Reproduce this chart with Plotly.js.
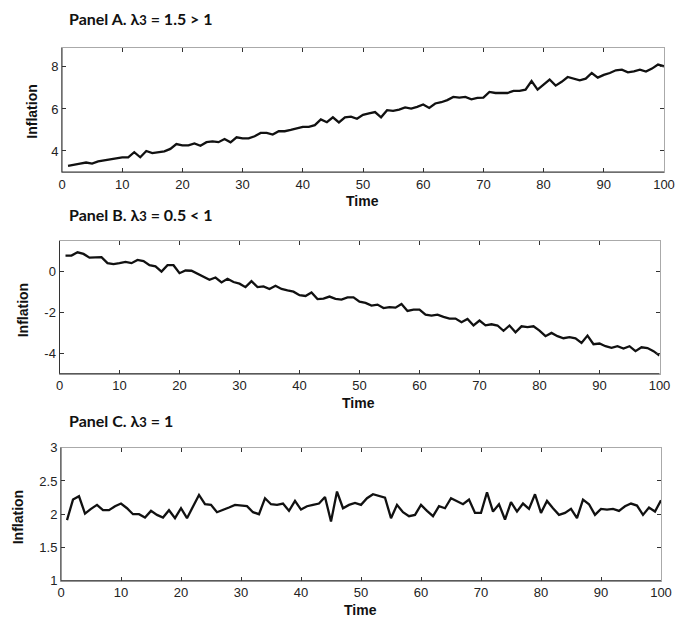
<!DOCTYPE html>
<html>
<head>
<meta charset="utf-8">
<script src="https://cdn.plot.ly/plotly-3.0.1.min.js"></script>
<style>html,body{margin:0;padding:0;background:#fff;}#chart{width:675px;height:617px;}</style>
</head>
<body>
<div id="chart"></div>
<script>
const time = [1,2,3,4,5,6,7,8,9,10,11,12,13,14,15,16,17,18,19,20,21,22,23,24,25,26,27,28,29,30,31,32,33,34,35,36,37,38,39,40,41,42,43,44,45,46,47,48,49,50,51,52,53,54,55,56,57,58,59,60,61,62,63,64,65,66,67,68,69,70,71,72,73,74,75,76,77,78,79,80,81,82,83,84,85,86,87,88,89,90,91,92,93,94,95,96,97,98,99,100];

const inflationA = [3.29,3.36,3.40,3.45,3.40,3.50,3.55,3.60,3.65,3.70,3.70,3.94,3.70,4.00,3.90,3.93,3.98,4.10,4.33,4.27,
  4.27,4.36,4.25,4.42,4.46,4.42,4.57,4.41,4.65,4.60,4.60,4.70,4.86,4.86,4.78,4.94,4.94,5.00,5.06,5.15,
  5.15,5.23,5.50,5.37,5.60,5.36,5.60,5.63,5.53,5.72,5.79,5.85,5.60,5.94,5.91,5.97,6.07,6.02,6.10,6.21,
  6.05,6.26,6.32,6.42,6.57,6.54,6.57,6.46,6.53,6.54,6.81,6.76,6.76,6.76,6.86,6.86,6.92,7.33,6.92,7.18,
  7.40,7.11,7.29,7.52,7.43,7.36,7.44,7.71,7.49,7.62,7.71,7.84,7.87,7.74,7.79,7.87,7.78,7.92,8.11,8.03];

const inflationB = [0.76,0.76,0.92,0.84,0.66,0.66,0.68,0.39,0.34,0.39,0.45,0.39,0.55,0.49,0.29,0.23,-0.02,0.29,0.29,-0.10,
  0.03,0.02,-0.13,-0.31,-0.42,-0.31,-0.55,-0.37,-0.53,-0.61,-0.78,-0.49,-0.78,-0.74,-0.87,-0.71,-0.87,-0.94,-1.00,-1.17,
  -1.21,-1.04,-1.36,-1.34,-1.24,-1.35,-1.39,-1.28,-1.28,-1.49,-1.55,-1.68,-1.63,-1.80,-1.75,-1.78,-1.60,-1.94,-1.88,-1.88,
  -2.12,-2.17,-2.12,-2.23,-2.31,-2.31,-2.49,-2.33,-2.65,-2.41,-2.64,-2.59,-2.65,-2.91,-2.65,-2.98,-2.69,-2.73,-2.69,-2.90,
  -3.17,-3.01,-3.17,-3.27,-3.22,-3.28,-3.50,-3.14,-3.56,-3.53,-3.66,-3.74,-3.66,-3.77,-3.66,-3.90,-3.71,-3.75,-3.90,-4.11];

const inflationC = [1.91,2.22,2.27,2.01,2.08,2.14,2.06,2.06,2.12,2.16,2.09,2.00,2.00,1.95,2.05,1.99,1.95,2.06,1.94,2.09,
  1.94,2.12,2.29,2.15,2.14,2.03,2.06,2.10,2.14,2.13,2.12,2.03,2.00,2.24,2.15,2.14,2.16,2.05,2.20,2.07,
  2.12,2.14,2.16,2.26,1.89,2.34,2.09,2.14,2.17,2.14,2.24,2.30,2.28,2.25,1.94,2.14,2.03,1.97,1.99,2.14,
  2.05,1.97,2.12,2.09,2.24,2.19,2.15,2.22,2.02,2.02,2.33,2.04,2.15,1.92,2.18,2.04,2.16,2.08,2.30,2.02,
  2.20,2.09,1.99,2.02,2.08,1.94,2.22,2.15,1.99,2.08,2.07,2.08,2.05,2.12,2.16,2.13,1.99,2.10,2.04,2.21];

const panelTitles = [
  'Panel A. λ<span style="font-size:13px">3</span> = 1.5 > 1',
  'Panel B. λ<span style="font-size:13px">3</span> = 0.5 < 1',
  'Panel C. λ<span style="font-size:13px">3</span> = 1'
];
const xTicks = [0,10,20,30,40,50,60,70,80,90,100];
const yTicksA = [4,6,8];
const yTickTextA = ['4','6','8'];
const yTicksB = [-4,-2,0];
const yTickTextB = ['-4','-2','0'];
const yTicksC = [1,1.5,2,2.5,3];
const yTickTextC = ['1','1.5','2','2.5','3'];
const xTitle = 'Time';
const yTitle = 'Inflation';

const W = 675, H = 617;
const px = v => v / W;
const py = v => 1 - v / H;

const panels = [
  {y: inflationA, yr: [3, 8.9], ticks: yTicksA, ticktext: yTickTextA, x0: 62, x1: 664, top: 48, bot: 172,
   title: [67, 18], ylab: [31.7, 112], xlab: [362, 201]},
  {y: inflationB, yr: [-5, 1.47], ticks: yTicksB, ticktext: yTickTextB, x0: 59.5, x1: 659.5, top: 241, bot: 373.7,
   title: [67, 215], ylab: [23.3, 310], xlab: [358, 403]},
  {y: inflationC, yr: [1, 3], ticks: yTicksC, ticktext: yTickTextC, x0: 61, x1: 661, top: 447.7, bot: 580.7,
   title: [67, 420], ylab: [18.3, 517], xlab: [360, 610]}
];

const tickFont = {family: 'Liberation Sans, Arial, sans-serif', size: 13, color: '#222'};
const traces = [];
const layout = {
  width: W, height: H,
  margin: {l: 0, r: 0, t: 0, b: 0},
  paper_bgcolor: '#fff', plot_bgcolor: '#fff',
  showlegend: false,
  annotations: [], shapes: []
};

panels.forEach((p, i) => {
  const n = i === 0 ? '' : String(i + 1);
  traces.push({
    x: time, y: p.y, type: 'scatter', mode: 'lines',
    xaxis: 'x' + n, yaxis: 'y' + n,
    line: {color: '#111', width: 2.3}, hoverinfo: 'skip'
  });
  layout['xaxis' + n] = {
    domain: [px(p.x0), px(p.x1)], range: [0, 100], anchor: 'y' + n,
    tickvals: xTicks, ticks: 'inside', ticklen: 4, tickcolor: '#333', tickwidth: 1,
    showline: true, linecolor: '#aaa', linewidth: 1, mirror: 'ticks',
    showgrid: false, zeroline: false, tickfont: tickFont, fixedrange: true
  };
  layout['yaxis' + n] = {
    domain: [py(p.bot), py(p.top)], range: p.yr, anchor: 'x' + n,
    tickvals: p.ticks, ticktext: p.ticktext, ticks: 'inside', ticklen: 4, tickcolor: '#333', tickwidth: 1,
    showline: true, linecolor: '#aaa', linewidth: 1, mirror: 'ticks',
    showgrid: false, zeroline: false, tickfont: tickFont, fixedrange: true
  };
  layout.shapes.push({type: 'line', xref: 'x' + n + ' domain', yref: 'y' + n + ' domain',
    x0: 0, x1: 0, y0: 0, y1: 1, line: {color: '#333', width: 1}});
  layout.shapes.push({type: 'line', xref: 'x' + n + ' domain', yref: 'y' + n + ' domain',
    x0: 0, x1: 1, y0: 0, y1: 0, line: {color: '#333', width: 1}});
  layout.annotations.push({
    text: '<b>' + panelTitles[i] + '</b>', xref: 'paper', yref: 'paper',
    x: px(p.title[0]), y: py(p.title[1]), xanchor: 'left', yanchor: 'middle',
    showarrow: false, font: {family: 'Lato, Open Sans, sans-serif', size: 16, color: '#111'}
  });
  layout.annotations.push({
    text: '<b>' + yTitle + '</b>', xref: 'paper', yref: 'paper',
    x: px(p.ylab[0]), y: py(p.ylab[1]), xanchor: 'center', yanchor: 'middle', textangle: -90,
    showarrow: false, font: {family: 'Liberation Sans, Arial, sans-serif', size: 14, color: '#111'}
  });
  layout.annotations.push({
    text: '<b>' + xTitle + '</b>', xref: 'paper', yref: 'paper',
    x: px(p.xlab[0]), y: py(p.xlab[1]), xanchor: 'center', yanchor: 'middle',
    showarrow: false, font: {family: 'Liberation Sans, Arial, sans-serif', size: 14, color: '#111'}
  });
});

Plotly.newPlot('chart', traces, layout, {staticPlot: true, displayModeBar: false});
</script>
</body>
</html>
